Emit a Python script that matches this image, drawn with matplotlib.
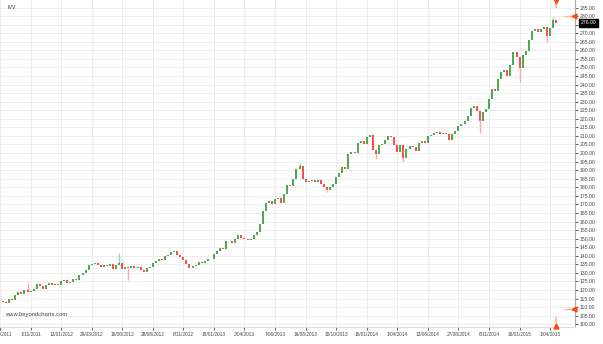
import numpy as np
import matplotlib.pyplot as plt

plt.rcParams["font.family"] = ["Liberation Sans", "DejaVu Sans"]

# weekly closes, IVV (trading-day index, one bar every 5 sessions)
closes = [
    113.0, 112.2, 114.8, 114.1, 117.2, 118.6, 117.9, 120.3, 118.6, 119.2,
    120.4, 123.6, 122.1, 120.5, 122.8, 124.1, 123.0, 123.6, 122.9, 125.1,
    125.6, 124.2, 124.9, 126.5, 125.9, 128.6, 130.0, 131.9, 134.6, 135.3,
    135.8, 134.9, 133.5, 134.8, 134.3, 135.2, 132.4, 134.9, 135.9, 132.0,
    133.7, 133.1, 133.9, 132.8, 133.2, 131.9, 130.6, 132.8, 133.6, 135.9,
    136.9, 138.3, 137.6, 139.6, 140.4, 142.3, 142.8, 140.5, 139.1, 137.4,
    135.2, 133.0, 133.8, 134.9, 136.4, 136.0, 136.8, 138.4, 137.9, 140.9,
    142.6, 144.8, 144.1, 148.5, 148.9, 147.5, 149.9, 152.0, 150.6, 150.0,
    149.4, 149.8, 151.9, 153.6, 158.8, 165.9, 170.8, 171.9, 170.5, 172.9,
    174.0, 170.9, 176.2, 181.5, 180.6, 184.8, 190.5, 192.6, 185.0, 183.2,
    183.6, 184.4, 183.2, 184.0, 182.2, 180.3, 178.2, 180.1, 181.9, 186.3,
    188.4, 191.6, 190.8, 199.4, 200.6, 199.8, 206.0, 206.9, 205.4, 209.2,
    210.4, 201.5, 199.3, 204.6, 205.3, 207.9, 210.1, 209.4, 204.6, 200.9,
    204.8, 197.0, 202.5, 203.9, 203.4, 201.2, 205.8, 206.9, 206.1, 209.7,
    210.3, 211.6, 212.1, 211.3, 211.8, 210.9, 207.9, 211.4, 212.6, 215.8,
    216.9, 218.5, 221.6, 226.3, 227.4, 224.6, 219.0, 224.0, 225.6, 231.8,
    237.2, 236.0, 243.5, 247.6, 248.7, 244.8, 251.6, 259.0, 256.2, 249.8,
    257.5, 259.6, 266.3, 271.2, 272.5, 270.8, 272.4, 273.6, 268.5, 272.9,
    277.7, 276.0,
]
first_open = 113.6
days = np.arange(5, 5 * len(closes) + 5, 5)

# a few long wicks that stand out
wick_days = [45, 195, 210, 490, 535, 615, 660, 785, 850, 895, 905]
wick_ends = [124.0, 141.6, 125.9, 194.0, 177.0, 196.5, 195.5, 212.0, 241.7, 265.0, 279.5]

tick_days = np.arange(0, 901, 50)
tick_labels = ["22/08/2011", "1/11/2011", "13/01/2012", "29/03/2012", "16/06/2012",
               "28/08/2012", "6/11/2012", "18/01/2013", "2/04/2013", "7/06/2013",
               "16/08/2013", "30/10/2013", "16/01/2014", "1/04/2014", "13/06/2014",
               "27/08/2014", "6/11/2014", "16/01/2015", "1/04/2015"]
price_ticks = np.arange(100, 286, 5)

last_price = 276.0
period_high = 280.0
period_low = 109.0

up_col = "#2f9a2f"
down_col = "#ff2a2a"

fig = plt.figure(figsize=(6.03, 3.44), dpi=100)
ax = fig.add_axes([0, 17 / 344, 575 / 603, 327 / 344])

opens = np.r_[first_open, closes[:-1]]
closes_arr = np.array(closes)
cols = np.where(closes_arr >= opens, up_col, down_col)

# pale wicks
for d, w in zip(wick_days, wick_ends):
    i = list(days).index(d)
    base = closes_arr[i]
    c = "#9fd49f" if cols[i] == up_col else "#ffa8a8"
    ax.vlines(d, min(base, w), max(base, w), colors=c, linewidth=1.0, zorder=2)

ax.vlines(days, np.minimum(opens, closes_arr), np.maximum(opens, closes_arr),
          colors=cols, linewidth=1.2, zorder=3)

ax.set_xlim(2.7, 940.7)
ax.set_ylim(98.4, 289.4)

ax.set_xticks(tick_days)
ax.set_xticklabels(tick_labels)
ax.set_yticks(price_ticks)
# the last-price tag sits over the 275 level
ax.set_yticklabels(["" if abs(v - last_price) < 2.5 else f"{v:.2f}" for v in price_ticks])
ax.yaxis.tick_right()
ax.tick_params(axis="y", labelsize=3.7, colors="#444444", length=2, width=0.6, pad=1.5)
ax.tick_params(axis="x", labelsize=3.4, colors="#444444", length=2, width=0.6, pad=1.5)

ax.grid(True, color="#eeeeee", linewidth=0.7, zorder=0)
ax.set_axisbelow(True)
for side in ["top", "left"]:
    ax.spines[side].set_visible(False)
ax.spines["right"].set_color("#aaaaaa")
ax.spines["bottom"].set_color("#dddddd")

# last price tag
ax.text(1.01, last_price, f"{last_price:.2f}", transform=ax.get_yaxis_transform(),
        fontsize=3.7, color="white", va="center", ha="left",
        bbox=dict(boxstyle="square,pad=0.25", fc="black", ec="black"), clip_on=False)

# high/low markers on the edges
mk = "#ff4a10"
stem = "#ffb38f"
last_day = days[-1]
ax.vlines(last_day, 284.5, 289.4, colors=stem, linewidth=1.2, zorder=4)
ax.plot(last_day, 288.6, marker="v", color=mk, markersize=3.5, clip_on=False, zorder=5)
ax.vlines(last_day, 98.4, 104.0, colors=stem, linewidth=1.2, zorder=4)
ax.plot(last_day, 99.2, marker="^", color=mk, markersize=3.5, clip_on=False, zorder=5)
ax.hlines([period_high, period_low], 922, 940.7, colors=stem, linewidth=1.0, zorder=4)
ax.plot([939, 939], [period_high, period_low], linestyle="none", marker="<",
        color=mk, markersize=3.5, clip_on=False, zorder=5)

ax.text(0.013, 0.985, "IVV", transform=ax.transAxes, fontsize=3.8, color="#333333",
        va="top", ha="left")
ax.text(0.009, 0.03, "www.beyondcharts.com", transform=ax.transAxes, fontsize=4.2,
        color="#444444", va="bottom", ha="left")

fig.savefig("out.png", dpi=100)
